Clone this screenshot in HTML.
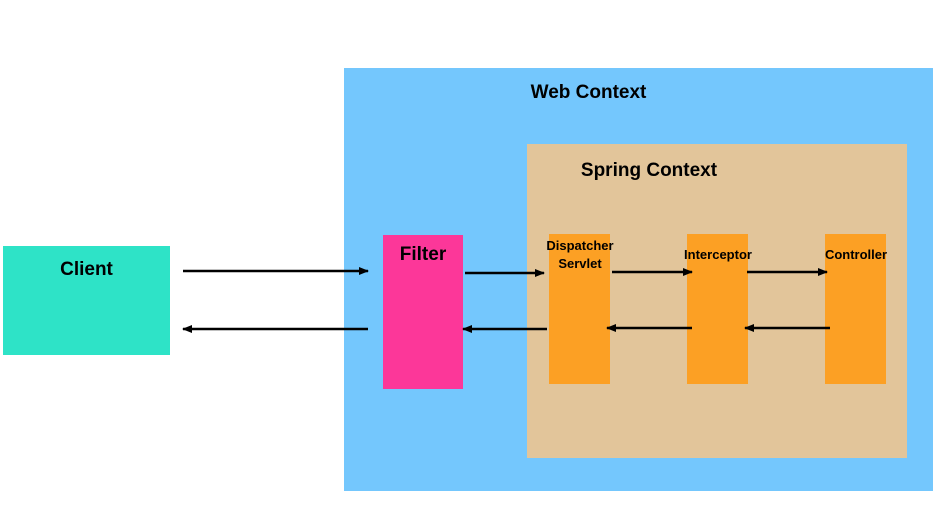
<!DOCTYPE html>
<html><head><style>
body{margin:0;width:947px;height:511px;background:#fff;position:relative;overflow:hidden;font-family:"Liberation Sans",Arial,sans-serif;font-weight:bold;color:#000}
div{position:absolute}
.t{white-space:nowrap;text-align:center}
</style></head><body>
<div style="left:344px;top:68px;width:589px;height:423px;background:#74c7fd"></div>
<div class="t" style="left:344px;top:82px;width:489px;font-size:19px">Web Context</div>
<div style="left:527px;top:144px;width:380px;height:314px;background:#e2c59a"></div>
<div class="t" style="left:527px;top:160px;width:244px;font-size:19px">Spring Context</div>
<div style="left:3px;top:246px;width:167px;height:109px;background:#2ee3c7"></div>
<div class="t" style="left:3px;top:259px;width:167px;font-size:19px">Client</div>
<div style="left:383px;top:235px;width:80px;height:154px;background:#fc3799"></div>
<div class="t" style="left:383px;top:244px;width:80px;font-size:19px">Filter</div>
<div style="left:549px;top:234px;width:61px;height:150px;background:#fca024"></div>
<div style="left:687px;top:234px;width:61px;height:150px;background:#fca024"></div>
<div style="left:825px;top:234px;width:61px;height:150px;background:#fca024"></div>
<div class="t" style="left:530px;top:237px;width:100px;font-size:13px;line-height:18px">Dispatcher<br>Servlet</div>
<div class="t" style="left:668px;top:247px;width:100px;font-size:13px">Interceptor</div>
<div class="t" style="left:806px;top:247px;width:100px;font-size:13px">Controller</div>
<svg width="947" height="511" style="position:absolute;left:0;top:0">
<defs><marker id="a" markerWidth="10" markerHeight="8" refX="9" refY="4" orient="auto" markerUnits="userSpaceOnUse"><path d="M0,0 L10,4 L0,8 z" fill="#000"/></marker></defs>
<g stroke="#000" stroke-width="2.5" marker-end="url(#a)">
<line x1="183" y1="271" x2="368" y2="271"/>
<line x1="465" y1="273" x2="544" y2="273"/>
<line x1="612" y1="272" x2="692" y2="272"/>
<line x1="747" y1="272" x2="827" y2="272"/>
<line x1="368" y1="329" x2="183" y2="329"/>
<line x1="547" y1="329" x2="463" y2="329"/>
<line x1="692" y1="328" x2="607" y2="328"/>
<line x1="830" y1="328" x2="745" y2="328"/>
</g></svg>
</body></html>
